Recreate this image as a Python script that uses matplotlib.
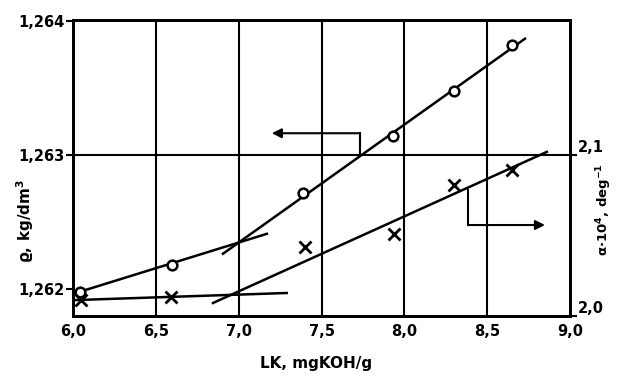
import matplotlib
matplotlib.use("Agg")
import matplotlib.pyplot as plt

plt.rcParams['font.family'] = ['DejaVu Sans']
plt.rcParams['font.weight'] = 'bold'
plt.rcParams['axes.labelweight'] = 'bold'

# measured values (LK, mg KOH/g)
lk_rho = [6.04, 6.60, 7.39, 7.93, 8.30, 8.65]
rho = [1.26198, 1.26218, 1.26272, 1.26314, 1.26348, 1.26382]

lk_alpha = [6.05, 6.59, 7.40, 7.94, 8.30, 8.65]
alpha = [2.0099, 2.0118, 2.0429, 2.0509, 2.0814, 2.0907]

# fitted straight segments (x pairs, y pairs)
rho_seg1 = ([6.04, 7.17], [1.26198, 1.262413])
rho_seg2 = ([6.905, 8.728], [1.262264, 1.26387])
alpha_seg1 = ([6.012, 7.29], [2.0099, 2.0143])
alpha_seg2 = ([6.845, 8.86], [2.0081, 2.1019])

# arrow brackets pointing to the axis used
rho_arrow = ([7.73, 7.73, 7.20], [1.263, 1.263164, 1.263164])
alpha_arrow = ([8.384, 8.384, 8.849], [2.0783, 2.0565, 2.0565])

x_ticks = [6.0, 6.5, 7.0, 7.5, 8.0, 8.5, 9.0]
x_labels = ['6,0', '6,5', '7,0', '7,5', '8,0', '8,5', '9,0']
rho_ticks = [1.262, 1.263, 1.264]
rho_labels = ['1,262', '1,263', '1,264']
alpha_ticks = [2.0, 2.1]
alpha_labels = ['2,0', '2,1']

lw = 1.8
fig = plt.figure(figsize=(6.22, 3.84), dpi=100)
ax = fig.add_axes([0.1174, 0.177, 0.7990, 0.771])
ax2 = ax.twinx()

ax.set_xlim(6.0, 9.0)
ax.set_ylim(1.261799, 1.26401)
ax2.set_ylim(2.0, 2.1838)

for x in x_ticks[1:-1]:
    ax.axvline(x, color='black', lw=1.5, zorder=1)
ax.axhline(1.263, color='black', lw=1.5, zorder=1)

ax.plot(*rho_seg1, color='black', lw=lw)
ax.plot(*rho_seg2, color='black', lw=lw)
ax.plot(lk_rho, rho, 'o', mfc='white', mec='black', mew=1.8, ms=7, ls='none', zorder=3)

ax2.plot(*alpha_seg1, color='black', lw=lw)
ax2.plot(*alpha_seg2, color='black', lw=lw)
ax2.plot(lk_alpha, alpha, 'x', color='black', mew=2.0, ms=9, ls='none', zorder=3)

# bracket arrows
ax.plot(rho_arrow[0][:2], rho_arrow[1][:2], color='black', lw=1.5)
ax.annotate('', xy=(rho_arrow[0][2], rho_arrow[1][2]),
            xytext=(rho_arrow[0][1], rho_arrow[1][1]),
            arrowprops=dict(arrowstyle='-|>', color='black', lw=1.5,
                            mutation_scale=14, shrinkA=0, shrinkB=0))
ax2.plot(alpha_arrow[0][:2], alpha_arrow[1][:2], color='black', lw=1.5)
ax2.annotate('', xy=(alpha_arrow[0][2], alpha_arrow[1][2]),
             xytext=(alpha_arrow[0][1], alpha_arrow[1][1]),
             arrowprops=dict(arrowstyle='-|>', color='black', lw=1.5,
                             mutation_scale=14, shrinkA=0, shrinkB=0))

for a in (ax, ax2):
    for s in a.spines.values():
        s.set_linewidth(2.0)

ax.set_xticks(x_ticks)
ax.set_xticklabels(x_labels, fontsize=10.5)
ax.tick_params(axis='x', length=0, pad=6)
ax.set_yticks(rho_ticks)
ax.set_yticklabels(rho_labels, fontsize=10.5)
ax.tick_params(axis='y', length=5, width=1.5, pad=1)
ax2.set_yticks(alpha_ticks)
ax2.set_yticklabels(alpha_labels, fontsize=10.5)
ax2.tick_params(axis='y', length=5, width=1.5, pad=1)
for lbl in ax2.get_yticklabels():
    lbl.set_verticalalignment('bottom')

ax.set_xlabel('LK, mgKOH/g', fontsize=11)
ax.xaxis.set_label_coords(0.49, -0.135)
ax.set_ylabel('ϱ, kg/dm$^3$', fontsize=11)
ax.yaxis.set_label_coords(-0.075, 0.32)
ax2.set_ylabel('α·10$^4$, deg$^{-1}$', fontsize=9.5, rotation=90)
ax2.yaxis.set_label_coords(1.05, 0.36)

fig.savefig('out.png', dpi=100)
